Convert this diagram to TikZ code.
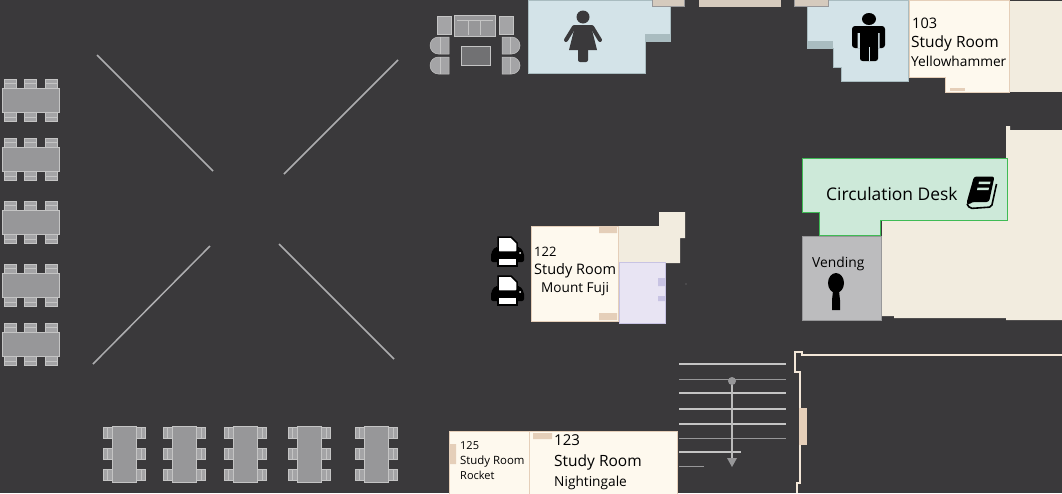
\documentclass[tikz,border=0pt]{standalone}
\usepackage{fontspec}
\setmainfont{Open Sans}
\definecolor{floor}{HTML}{3A393B}
\definecolor{restroom}{HTML}{D3E3E8}
\definecolor{restedge}{HTML}{A9BCC0}
\definecolor{study}{HTML}{FEF9EE}
\definecolor{mark}{HTML}{E5CFB9}
\definecolor{cream}{HTML}{F2ECDF}
\definecolor{wall}{HTML}{F3E7D8}
\definecolor{door}{HTML}{D5CABD}
\definecolor{desk}{HTML}{CDE9D9}
\definecolor{deskedge}{HTML}{3FBB55}
\definecolor{vend}{HTML}{BCBCBE}
\definecolor{lilac}{HTML}{E8E4F3}
\definecolor{lilacedge}{HTML}{C8C3E3}
\definecolor{furn}{HTML}{979799}
\definecolor{seatfill}{HTML}{A4A4A6}
\definecolor{furnedge}{HTML}{C4C4C4}
\begin{document}
\begin{tikzpicture}[x=1pt,y=-1pt,
        room/.style={fill=study,draw=mark,line width=1pt},
        rest/.style={fill=restroom,draw=restedge,line width=.8pt},
        tag/.style={fill=mark},
        seat/.style={fill=seatfill,draw=furnedge,line width=.5pt},
        seatline/.style={draw=furnedge,line width=.5pt},
        slab/.style={fill=furn,draw=furnedge,line width=.8pt},
        label/.style={inner sep=0pt,anchor=base west,font=\fontsize{#1}{#1}\selectfont},
        tread/.style={draw=furnedge,line width=1.4pt},
        thintread/.style={draw=furn,line width=.8pt},
        slash/.style={draw=furnedge!50!furn,line width=1.5pt}]
\fill[floor] (0,0) rectangle (1062,493);
\useasboundingbox (0,0) rectangle (1062,493);

% long tables on the left
\foreach \y in {100,159,222,285,344} {
    \foreach \x in {10,30.5,51} {
        \draw[seat] (\x-6,\y-21) rectangle (\x+6,\y-11);
        \draw[seatline] (\x-6,\y-17) -- (\x+6,\y-17);
        \draw[seat] (\x-6,\y+11) rectangle (\x+6,\y+21);
        \draw[seatline] (\x-6,\y+17) -- (\x+6,\y+17);
    }
    \draw[slab] (2,\y-12) rectangle (59,\y+12);
}
% long tables at the bottom
\foreach \x in {124,184,245,309,376} {
    \foreach \y in {433,453.5,474.5} {
        \draw[seat] (\x-21,\y-5.5) rectangle (\x-11,\y+5.5);
        \draw[seatline] (\x-17,\y-5.5) -- (\x-17,\y+5.5);
        \draw[seat] (\x+11,\y-5.5) rectangle (\x+21,\y+5.5);
        \draw[seatline] (\x+17,\y-5.5) -- (\x+17,\y+5.5);
    }
    \draw[slab] (\x-12,426) rectangle (\x+12,482);
}

\draw[slash] (97,55) -- (213,171);
\draw[slash] (398,60) -- (284,174);
\draw[slash] (210,246) -- (93,364);
\draw[slash] (279,244) -- (394,359);

% lounge
\draw[seat] (437,16) rectangle (451,34);
\draw[seat] (499,16) rectangle (513,34);
\draw[slab] (454,15) rectangle (495,36);
\draw[seatline] (457,20) -- (493,20) (468,20) -- (468,35) (480,20) -- (480,35);
\draw[fill=black!25!furn,draw=furnedge] (461,46) rectangle (490,65);
\foreach \y in {37,57} {
    \draw[seat] (449,\y) -- (438.5,\y) arc[start angle=-90,end angle=-270,radius=8.5] -- (449,\y+17) -- cycle;
    \draw[seatline] (440,\y) -- (440,\y+17);
    \draw[seat] (502,\y) -- (511.5,\y) arc[start angle=-90,end angle=90,radius=8.5] -- (502,\y+17) -- cycle;
    \draw[seatline] (510,\y) -- (510,\y+17);
}

% restrooms
\draw[rest] (528,0) -- (670,0) -- (670,41) -- (645,41) -- (645,73) -- (528,73) -- cycle;
\fill[restedge] (645,34) rectangle (670,41);
\draw[rest] (807,0) -- (908,0) -- (908,81) -- (841,81) -- (841,67) -- (833,67) -- (833,48) -- (807,48) -- cycle;
\fill[restedge] (808,41) rectangle (833,48);
\draw[fill=door,draw=furn] (652,-1) rectangle (684,6);
\fill[door] (699,0) rectangle (781,7);
\draw[fill=door,draw=furn] (794,-1) rectangle (828,6);

% woman
\fill[floor] (583,17) circle (6.5);
\draw[floor,line width=4pt,line cap=round,line join=round] (566,40) -- (574,27) -- (592,27) -- (600,40);
\fill[floor] (575,26) -- (591,26) -- (597,50) -- (569,50) -- cycle;
\fill[floor,rounded corners=2pt] (578,48) rectangle (588,62);
% man
\fill[black] (869,19) ellipse (7 and 6);
\fill[black,rounded corners=3pt] (852,26) rectangle (885,48);
\fill[restroom] (857.5,33) rectangle (860,48) (878,33) rectangle (879.5,48);
\fill[black,rounded corners=2.5pt] (860,30) rectangle (878,61);
\fill[restroom] (868.5,47) rectangle (869.5,61);

% big cream block
\fill[cream] (1010,1) rectangle (1062,92);
\fill[cream] (1006,126) -- (1010,126) -- (1010,130) -- (1062,130) -- (1062,320) -- (1006,320) -- (1006,318) -- (894,318) -- (894,316) -- (882,316) -- (882,221) -- (1006,221) -- cycle;
\fill[cream] (618,226) -- (659,226) -- (659,212) -- (685,212) -- (685,238) -- (680,238) -- (680,263) -- (618,263) -- cycle;

% study rooms
\draw[room] (909,0) -- (1009,0) -- (1009,92) -- (945,92) -- (945,77) -- (909,77) -- cycle;
\fill[tag] (950,88) rectangle (965,91);
\draw[room] (531,226) rectangle (618,321);
\fill[tag] (599,227) rectangle (617,233) (599,313) rectangle (617,320);
\draw[room] (449,431) rectangle (529,494);
\draw[room] (529,431) rectangle (677,494);
\fill[tag] (450,444) rectangle (456,464) (533,433) rectangle (552,439);

% lilac room
\draw[fill=lilac,draw=lilacedge,line width=.8pt] (619,262) rectangle (665,323);
\fill[lilacedge] (658,278) rectangle (665,286) (658,296) rectangle (665,301);

% desk and vending
\draw[fill=desk,draw=deskedge,line width=1pt] (802,158) -- (1007,158) -- (1007,220) -- (880,220) -- (880,235) -- (819,235) -- (819,212) -- (802,212) -- cycle;
\draw[fill=vend,draw=furn,line width=.8pt] (802,236) rectangle (881,320);
\fill[black] (836,283) ellipse (8 and 10);
\fill[black] (833,291) -- (839,291) -- (840,300) -- (840,310) -- (832,310) -- (832,300) -- cycle;

% book
\fill[black,rounded corners=2.5pt] (974,176.5) -- (994.5,176.5) -- (989,202) -- (972,202) -- (968.5,205) -- (966.5,203) -- cycle;
\draw[black,line width=1.6pt,rounded corners=2pt] (996.5,184) -- (991.5,207) -- (970,208.5) -- (967,204);
\fill[desk] (979,181.5) -- (990.5,181.5) -- (990,184) -- (978.5,184) -- cycle (977.5,187.5) -- (989,187.5) -- (988.5,190) -- (977,190) -- cycle;

% printers
\foreach \y in {0,39} {
    \draw[fill=white,draw=black,line width=1.5pt] (498,237+\y) -- (511,237+\y) -- (517,243+\y) -- (517,252+\y) -- (498,252+\y) -- cycle;
    \fill[black,rounded corners=2pt] (491,262+\y) -- (491,253+\y) -- (495,247+\y) -- (498,247+\y) -- (498,252+\y) -- (517,252+\y) -- (517,247+\y) -- (520,247+\y) -- (524,253+\y) -- (524,262+\y) -- cycle;
    \draw[fill=white,draw=black,line width=1.5pt] (498,258+\y) rectangle (517,266+\y);
    \fill[white] (520,253+\y) circle (1);
}

% stairs
\foreach \y in {364,393,409,424} {\draw[tread] (679,\y) -- (786,\y);}
\foreach \y in {379,438} {\draw[thintread] (679,\y) -- (786,\y);}
\draw[tread] (679,452) -- (741,452);
\draw[thintread] (679,466) -- (704,466);
\draw[draw=furnedge!80!furn,line width=1.4pt] (732,381) -- (732,460);
\fill[furn] (732,381) circle (4);
\fill[furn] (727,458) -- (737,458) -- (732,467) -- cycle;

% wall
\draw[wall,line width=1.6pt] (1062,355) -- (802,355) -- (802,352) -- (795,352) -- (795,372) -- (800,372) -- (800,483) -- (797,483) -- (797,493);
\fill[tag] (799,408) rectangle (807,445);
\fill[white] (686,284) circle (.4);

\node[label=14.5] (num103) at (912,28) {103};
\node[label=15.5] (name103) at (911,47) {Study Room};
\node[label=13.7] (who103) at (911,66) {Yellowhammer};
\node[label=17.4] (deskname) at (826,200) {Circulation Desk};
\node[label=13.8] (vendname) at (812,267) {Vending};
\node[label=13] (num122) at (534,256) {122};
\node[label=14.5] (name122) at (534,274) {Study Room};
\node[label=13.6] (who122) at (541,292) {Mount Fuji};
\node[label=11] (num125) at (460,449) {125};
\node[label=11.4] (name125) at (460,464) {Study Room};
\node[label=11] (who125) at (460,479) {Rocket};
\node[label=15] (num123) at (554,445) {123};
\node[label=15.5] (name123) at (554,466) {Study Room};
\node[label=13.7] (who123) at (554,486) {Nightingale};
\end{tikzpicture}
\end{document}
